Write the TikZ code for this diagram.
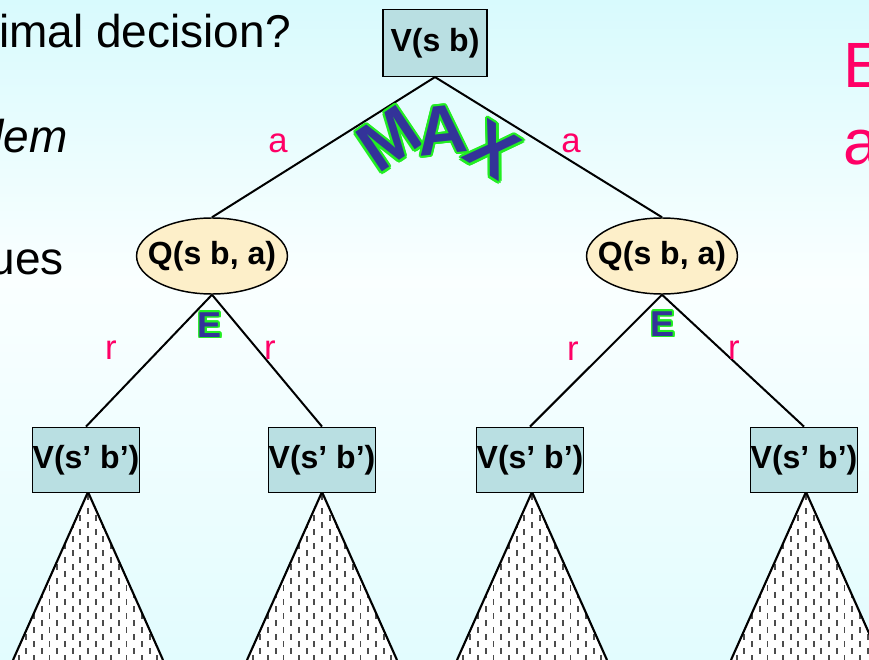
\documentclass[tikz,border=0pt]{standalone}
\usepackage{fontspec}
\setmainfont{Liberation Sans}
\usetikzlibrary{positioning,shapes.geometric,calc}
\definecolor{bgtop}{HTML}{D8FAFD}
\definecolor{bgmid}{HTML}{FAFFFF}
\definecolor{bgbot}{HTML}{E2FCFE}
\definecolor{vboxc}{HTML}{B9DFE2}
\definecolor{qnodec}{HTML}{FDEFC9}
\definecolor{lblc}{HTML}{FF0066}
\definecolor{wablue}{HTML}{333399}
\definecolor{waglow}{HTML}{22EE22}
\newcommand{\wordart}[6]{%
  \foreach \ang in {0,30,...,330}
    \node[font=\fontsize{#3}{#3}\selectfont\bfseries,text=waglow,rotate=#2] at ($(#1)+(\ang:#6)$) {#4};
  \node[font=\fontsize{#3}{#3}\selectfont\bfseries,text=wablue,rotate=#2] (#5) at (#1) {#4};}

\begin{document}
\begin{tikzpicture}[x=0.75pt,y=-0.75pt,
  vbox/.style={draw,line width=1.1pt,fill=vboxc,inner sep=0pt,minimum width=78pt,minimum height=49pt,font=\fontsize{24}{26}\selectfont\bfseries},
  qbox/.style={ellipse,draw,line width=1.1pt,fill=qnodec,inner xsep=-8pt,inner ysep=0pt,minimum width=112pt,minimum height=57pt,font=\fontsize{24}{26}\selectfont\bfseries},
  link/.style={line width=1.5pt},
  lbl/.style={text=lblc,inner sep=0pt,font=\fontsize{26}{28}\selectfont},
  slide/.style={inner sep=0pt,anchor=base east,font=\fontsize{34.5}{40}\selectfont},
  hatch/.style={line width=1.4pt,draw=black!70,dash pattern=on 4.5pt off 6pt}]
\useasboundingbox (0,0) rectangle (869,660);
\clip (0,0) rectangle (869,660);
\shade[top color=bgtop,bottom color=bgmid] (0,0) rectangle (869,280);
\shade[top color=bgmid,bottom color=bgbot] (0,280) rectangle (869,660);
\node[slide] (t1) at (291,48) {imal decision?};
\node[slide,font=\fontsize{34.5}{40}\selectfont\itshape] (t2) at (68,152) {lem};
\node[slide] (t3) at (64,274) {ues};
\node[lbl,anchor=base west,font=\fontsize{48}{56}\selectfont] (t4) at (843,88) {E};
\node[lbl,anchor=base west,font=\fontsize{48}{56}\selectfont] (t5) at (843,165) {a};
\foreach \x in {88,322,532,806}{
  \begin{scope}
    \clip (\x,492) -- (\x-75,660) -- (\x+75,660) -- cycle;
    \fill[white] (\x-80,488) rectangle (\x+80,665);
    \foreach \i in {-10,-8,...,10} \draw[hatch] (\x+\i*7.7,494) -- (\x+\i*7.7,665);
    \foreach \i in {-9,-7,...,9} \draw[hatch,dash phase=5.25pt] (\x+\i*7.7,494) -- (\x+\i*7.7,665);
  \end{scope}
  \draw[line width=1.6pt] (\x-75,660) -- (\x,492) -- (\x+75,660);
}
\node[vbox,minimum height=50pt] (root) at (435,43) {V(s b)};
\node[qbox] (q1) at (212,256) {Q(s b, a)};
\node[qbox] (q2) at (662,256) {Q(s b, a)};
\node[vbox] (v1) at (86,460) {V(s’ b’)};
\node[vbox] (v2) at (322,460) {V(s’ b’)};
\node[vbox] (v3) at (530,460) {V(s’ b’)};
\node[vbox] (v4) at (804,460) {V(s’ b’)};
\draw[link] (root.south) -- (q1.north);
\draw[link] (root.south) -- (q2.north);
\draw[link] (q1.south) -- (v1.north);
\draw[link] (q1.south) -- (v2.north);
\draw[link] (q2.south) -- (v3.north);
\draw[link] (q2.south) -- (v4.north);
\node[lbl] (a1) at (278,143) {a};
\node[lbl] (a2) at (571,143) {a};
\node[lbl] (r1) at (111,350) {r};
\node[lbl] (r2) at (270,350) {r};
\node[lbl] (r3) at (573,351) {r};
\node[lbl] (r4) at (734,350) {r};
\wordart{389,139}{34}{52}{M}{m}{2.3}
\wordart{442,130}{6}{52}{A}{ma}{2.3}
\wordart{493,150}{-32}{52}{X}{mx}{2.3}
\wordart{210,325}{0}{27}{E}{e1}{1.6}
\wordart{663,324}{0}{27}{E}{e2}{1.6}
\end{tikzpicture}
\end{document}
